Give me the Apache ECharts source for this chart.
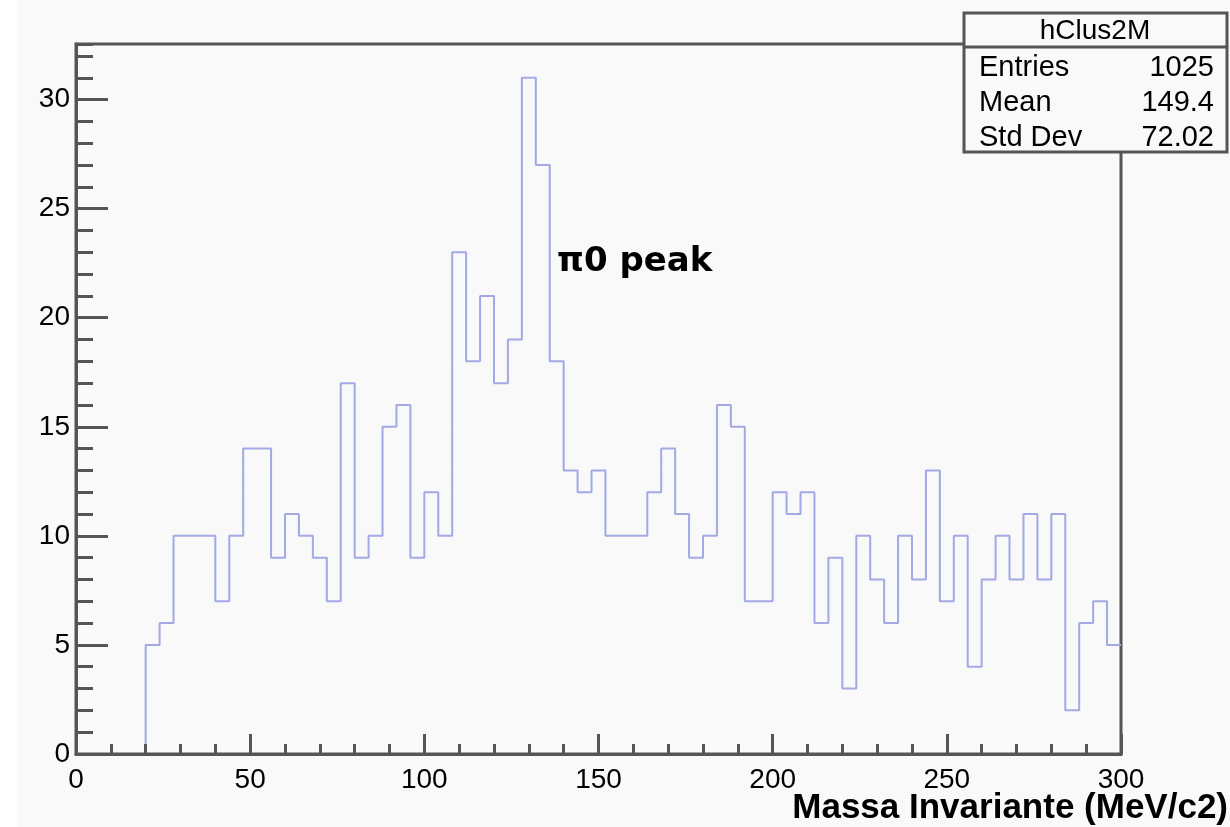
<!DOCTYPE html>
<html>
<head>
<meta charset="utf-8">
<script src="https://cdn.jsdelivr.net/npm/echarts@6/dist/echarts.min.js"></script>
<style>
html,body{margin:0;padding:0;background:#f9f9f9;}
#chart{width:1230px;height:827px;}
</style>
</head>
<body>
<div id="chart"></div>
<script>
// Histogram hClus2M: bin width 4 MeV/c2, range 0..300
const binStart = 0;
const binWidth = 4;
const counts = [0,0,0,0,0,
  5,6,10,10,10,7,10,14,14,9,
  11,10,9,7,17,9,10,15,16,9,
  12,10,23,18,21,17,19,31,27,18,
  13,12,13,10,10,10,12,14,11,9,
  10,16,15,7,7,12,11,12,6,9,
  3,10,8,6,10,8,13,7,10,4,
  8,10,8,11,8,11,2,6,7,5];
const xTicks = [0,50,100,150,200,250,300];
const yTicks = [0,5,10,15,20,25,30];
const statsTitle = 'hClus2M';
const statsRows = [['Entries','1025'],['Mean','149.4'],['Std Dev','72.02']];
const peakLabel = 'π0 peak';
const xTitle = 'Massa Invariante (MeV/c2)';

// step line data: low edges + last upper edge
const stepData = counts.map((c,i)=>[binStart + i*binWidth, c]);
stepData.push([binStart + counts.length*binWidth, counts[counts.length-1]]);

const axisColor = '#555555';
const font = '"Liberation Sans", Arial, Helvetica, sans-serif';
const chart = echarts.init(document.getElementById('chart'));

const statsChildren = [
  {type:'rect', shape:{x:964,y:13,width:263,height:139}, style:{fill:'#f9f9f9', stroke:axisColor, lineWidth:3}},
  {type:'line', shape:{x1:964,y1:47,x2:1227,y2:47}, style:{stroke:axisColor, lineWidth:3}},
  {type:'text', style:{text:statsTitle, x:1095, y:31, textAlign:'center', textVerticalAlign:'middle', font:'28px '+font, fill:'#000'}}
];
statsRows.forEach((r,i)=>{
  statsChildren.push({type:'text', style:{text:r[0], x:979, y:68+35*i, textAlign:'left', textVerticalAlign:'middle', font:'29px '+font, fill:'#000'}});
  statsChildren.push({type:'text', style:{text:r[1], x:1214, y:68+35*i, textAlign:'right', textVerticalAlign:'middle', font:'29px '+font, fill:'#000'}});
});

const option = {
  backgroundColor:'#f9f9f9',
  animation:false,
  grid:{left:76, top:44, width:1045, height:710, show:true, borderColor:axisColor, borderWidth:3, backgroundColor:'transparent'},
  xAxis:{
    type:'value', min:0, max:300, interval:50, z:10,
    axisLine:{show:true, onZero:false, lineStyle:{color:axisColor, width:3}},
    axisTick:{show:true, inside:true, length:20, lineStyle:{color:axisColor, width:3}},
    minorTick:{show:true, splitNumber:5, length:10, lineStyle:{color:axisColor, width:3}},
    splitLine:{show:false},
    axisLabel:{fontSize:28, fontFamily:font, color:'#000', margin:12,
      formatter:v=> xTicks.includes(v) ? String(v) : ''}
  },
  yAxis:[{
    type:'value', min:0, max:32.55, interval:5, z:10,
    axisLine:{show:true, onZero:false, lineStyle:{color:axisColor, width:3}},
    axisTick:{show:true, inside:true, length:32, lineStyle:{color:axisColor, width:3}},
    splitLine:{show:false},
    axisLabel:{fontSize:28, fontFamily:font, color:'#000', margin:6, showMaxLabel:false,
      formatter:v=> yTicks.includes(v) ? String(v) : ''}
  },{
    type:'value', min:0, max:32.55, interval:1, position:'left', offset:0, z:10,
    axisLine:{show:false},
    axisTick:{show:true, inside:true, length:17, lineStyle:{color:axisColor, width:3}},
    splitLine:{show:false},
    axisLabel:{show:false}
  }],
  series:[{
    type:'line', step:'end', data:stepData, showSymbol:false, symbol:'none',
    lineStyle:{color:'#a2a9e4', width:2}, clip:true, z:1
  }],
  graphic:[
    {type:'rect', shape:{x:0,y:0,width:18,height:827}, style:{fill:'#ffffff'}, z:-1, silent:true},
    {type:'text', style:{text:peakLabel, x:557, y:262, textAlign:'left', textVerticalAlign:'middle', font:'bold 34px "DejaVu Sans", Verdana, sans-serif', fill:'#000'}, z:50},
    {type:'text', style:{text:xTitle, x:1228, y:808, textAlign:'right', textVerticalAlign:'middle', font:'bold 35px '+font, fill:'#000'}, z:50},
    {type:'group', children:statsChildren, z:100}
  ]
};
chart.setOption(option);
</script>
</body>
</html>
